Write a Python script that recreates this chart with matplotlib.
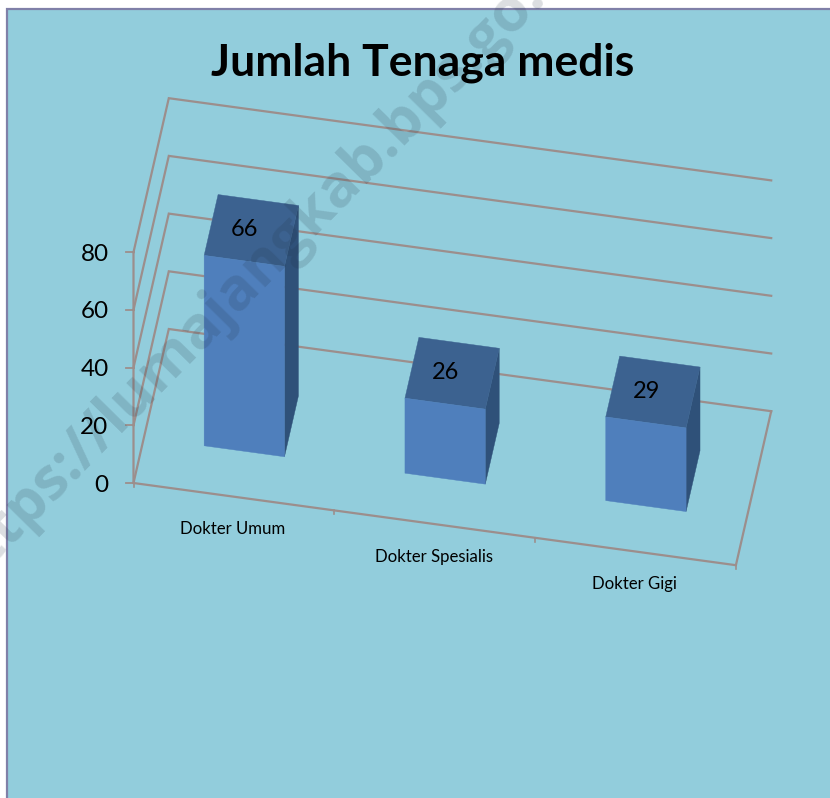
#!/usr/bin/env python3
import matplotlib
matplotlib.use("Agg")
import matplotlib.pyplot as plt
from matplotlib.patches import Polygon, Rectangle

categories = ["Dokter Umum", "Dokter Spesialis", "Dokter Gigi"]
values = [66, 26, 29]
y_ticks = [0, 20, 40, 60, 80]
title = "Jumlah Tenaga medis"
watermark = "https://lumajangkab.bps.go.id"

plt.rcParams["font.family"] = ["Lato", "DejaVu Sans"]

BG = "#92CDDC"
LINE = "#9C8E8C"
FRONT = "#4F7FBC"
TOP = "#3C6290"
SIDE = "#2F5179"


def project(c, v, d):
    """category position, value, depth -> pixel position"""
    x = 133.5 + 200.8 * c + 35.3 * d
    y = 483 + 27.4 * c - 2.885 * v - 154 * d
    return x, y


fig = plt.figure(figsize=(8.3, 7.98), dpi=100)
ax = fig.add_axes([0, 0, 1, 1])
ax.set_xlim(0, 830)
ax.set_ylim(798, 0)
ax.axis("off")

ax.add_patch(Rectangle((7, 9), 840, 800, facecolor=BG, edgecolor="#8080A8", lw=1.6, zorder=0))

# walls and gridlines
n = len(categories)
for v in y_ticks:
    x0, y0 = project(0, v, 0)
    x1, y1 = project(0, v, 1)
    x2, y2 = project(n, v, 1)
    ax.plot([x0, x1, x2], [y0, y1, y2], color=LINE, lw=1.6, zorder=1, solid_joinstyle="miter")
    ax.plot([x0 - 8, x0], [y0, y0], color=LINE, lw=1.3, zorder=1)
    ax.text(x0 - 25, y0 + 2, str(v), ha="right", va="center", fontsize=17.5, color="black", zorder=5)

# floor and axes
pts = [project(0, 80, 0), project(0, 0, 0), project(n, 0, 0), project(n, 0, 1)]
ax.plot([p[0] for p in pts], [p[1] for p in pts], color=LINE, lw=1.6, zorder=1, solid_joinstyle="miter")
for i in range(n + 1):
    x, y = project(i, 0, 0)
    ax.plot([x, x], [y, y + 4], color=LINE, lw=1.2, zorder=1)

# bars
bar_w = 0.4
d0, d1 = 0.295, 0.69
for i, val in enumerate(values):
    c0 = i + 0.3
    c1 = c0 + bar_w
    front = [project(c0, 0, d0), project(c1, 0, d0), project(c1, val, d0), project(c0, val, d0)]
    side = [project(c1, 0, d0), project(c1, 0, d1), project(c1, val, d1), project(c1, val, d0)]
    top = [project(c0, val, d0), project(c1, val, d0), project(c1, val, d1), project(c0, val, d1)]
    ax.add_patch(Polygon(side, facecolor=SIDE, edgecolor=SIDE, lw=0.3, zorder=2))
    ax.add_patch(Polygon(top, facecolor=TOP, edgecolor=TOP, lw=0.3, zorder=2))
    ax.add_patch(Polygon(front, facecolor=FRONT, edgecolor=FRONT, lw=0.3, zorder=2))

    lx, ly = project(i + 0.5, val, 0.5)
    ax.text(lx - 7, ly + 0.5, str(val), ha="center", va="center", fontsize=17, color="black", zorder=5)

    tx, ty = project(i + 0.5, 0, 0)
    ax.text(tx - 1, ty + 32.5, categories[i], ha="center", va="center", fontsize=12.1, color="black", zorder=5)

ax.text(423, 63, title, ha="center", va="center", fontsize=32, fontweight="bold", color="black", zorder=5)

# site watermark runs across the whole figure
ax.text(263, 263, watermark, rotation=45.5, rotation_mode="anchor", ha="center", va="center",
        fontfamily="Open Sans", fontsize=42.5, fontweight="bold", color="#203040", alpha=0.16, zorder=4)

fig.savefig("out.png", dpi=100)
